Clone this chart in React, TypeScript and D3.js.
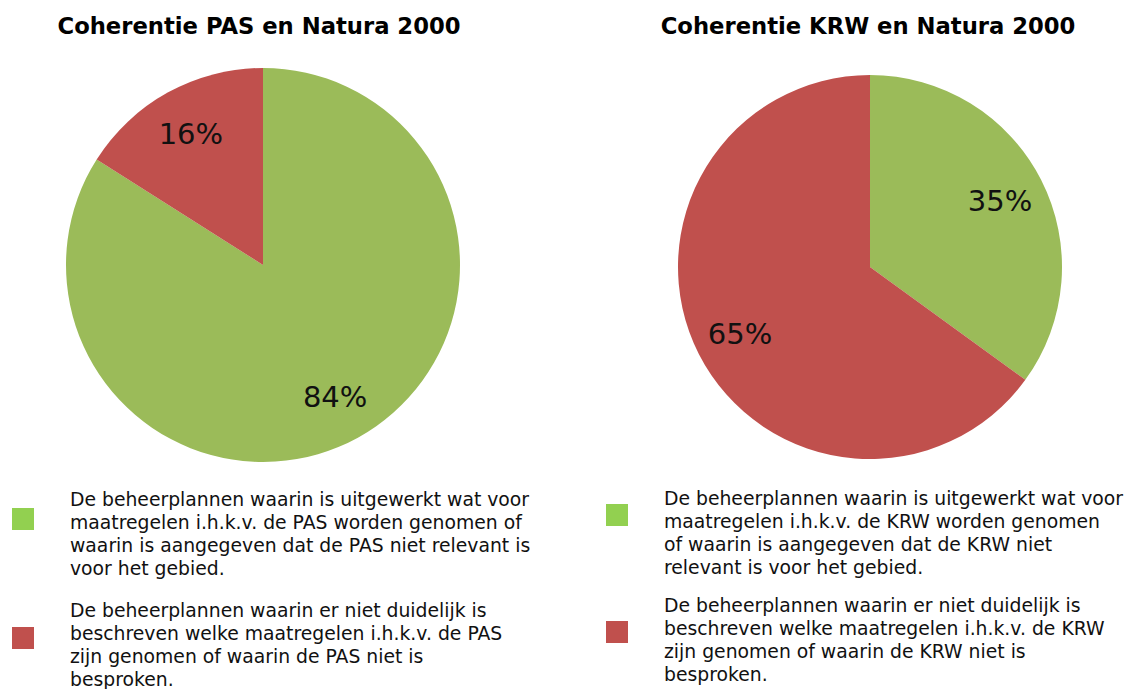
import React, { useEffect, useRef } from "react";
import * as d3 from "d3";

// values
const categories = ["uitgewerkt / niet relevant", "niet duidelijk / niet besproken"];
const pasValues = [84, 16];
const krwValues = [35, 65];
const titles = ["Coherentie PAS en Natura 2000", "Coherentie KRW en Natura 2000"];
const pasLegend = [
  ["De beheerplannen waarin is uitgewerkt wat voor", "maatregelen i.h.k.v. de PAS worden genomen of", "waarin is aangegeven dat de PAS niet relevant is", "voor het gebied."],
  ["De beheerplannen waarin er niet duidelijk is", "beschreven welke maatregelen i.h.k.v. de PAS", "zijn genomen of waarin de PAS niet is", "besproken."],
];
const krwLegend = [
  ["De beheerplannen waarin is uitgewerkt wat voor", "maatregelen i.h.k.v. de KRW worden genomen", "of waarin is aangegeven dat de KRW niet", "relevant is voor het gebied."],
  ["De beheerplannen waarin er niet duidelijk is", "beschreven welke maatregelen i.h.k.v. de KRW", "zijn genomen of waarin de KRW niet is", "besproken."],
];

const sliceColors = ["#9BBB59", "#C0504D"];
const legendColors = ["#92D050", "#C0504D"];

const W = 1124;
const H = 689;

export default function App() {
  const ref = useRef<SVGSVGElement>(null);

  useEffect(() => {
    const svg = d3.select(ref.current);
    svg.selectAll("*").remove();

    const panels = [
      { values: pasValues, title: titles[0], legend: pasLegend, cx: 263, cy: 265, r: 197, titleX: 259, legX: 12, textX: 70, legY: [508, 627], lineY: [506, 617] },
      { values: krwValues, title: titles[1], legend: krwLegend, cx: 870, cy: 267, r: 192, titleX: 868, legX: 606, textX: 664, legY: [504, 621], lineY: [505, 612] },
    ];

    const pie = d3.pie<number>().sort(null).value(d => d);
    const font = "'DejaVu Sans', Verdana, sans-serif";

    panels.forEach(p => {
      const g = svg.append("g");

      g.append("text")
        .attr("x", p.titleX)
        .attr("y", 34)
        .attr("text-anchor", "middle")
        .style("font-family", font)
        .style("font-weight", "bold")
        .style("font-size", "22.7px")
        .text(p.title);

      const arc = d3.arc<d3.PieArcDatum<number>>().innerRadius(0).outerRadius(p.r);
      const labelArc = d3.arc<d3.PieArcDatum<number>>().innerRadius(p.r * 0.76).outerRadius(p.r * 0.76);

      const pg = g.append("g").attr("transform", `translate(${p.cx},${p.cy})`);
      const arcs = pie(p.values);

      pg.selectAll("path")
        .data(arcs)
        .join("path")
        .attr("d", arc)
        .attr("fill", (d, i) => sliceColors[i]);

      pg.selectAll("text")
        .data(arcs)
        .join("text")
        .attr("transform", d => `translate(${labelArc.centroid(d)})`)
        .attr("text-anchor", "middle")
        .attr("dy", "0.36em")
        .style("font-family", font)
        .style("font-size", "29px")
        .attr("fill", "#111")
        .text(d => d.value + "%");

      // legend
      categories.forEach((c, i) => {
        g.append("rect")
          .attr("x", p.legX)
          .attr("y", p.legY[i])
          .attr("width", 22)
          .attr("height", 22)
          .attr("fill", legendColors[i]);

        const t = g.append("text")
          .style("font-family", font)
          .style("font-size", "18.8px")
          .attr("fill", "#111");
        p.legend[i].forEach((line, j) => {
          t.append("tspan")
            .attr("x", p.textX)
            .attr("y", p.lineY[i] + j * 23)
            .text(line);
        });
      });
    });
  }, []);

  return (
    <div style={{ position: "absolute", left: 0, top: 0 }}>
      <svg ref={ref} width={W} height={H} style={{ display: "block", background: "#fff" }} />
    </div>
  );
}
